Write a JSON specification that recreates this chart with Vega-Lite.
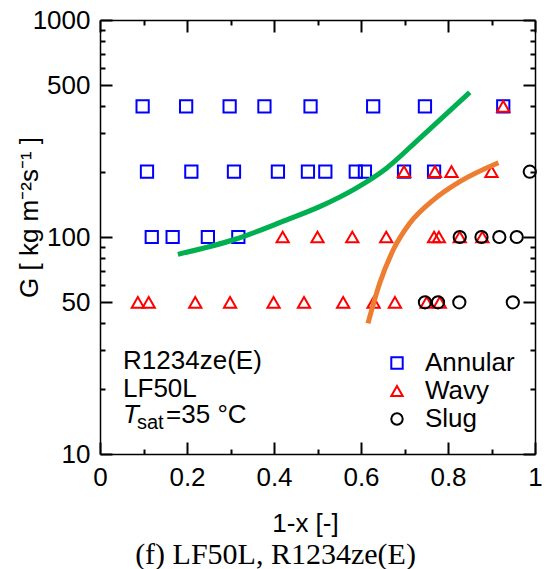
{
  "$schema": "https://vega.github.io/schema/vega-lite/v6.json",
  "width": 435,
  "height": 434,
  "autosize": {"type": "none"},
  "padding": {"left": 100, "top": 20, "right": 17, "bottom": 115},
  "background": "white",
  "config": {
    "view": {"stroke": null},
    "font": "Liberation Sans",
    "axis": {"grid": false}
  },
  "title": {
    "text": "(f) LF50L, R1234ze(E)",
    "orient": "bottom",
    "font": "Liberation Serif",
    "fontSize": 30,
    "fontWeight": "normal",
    "color": "black",
    "anchor": "middle",
    "dx": -42,
    "offset": 4
  },
  "datasets": {
    "points": [
      {"x": 0.098, "G": 400, "regime": "Annular"},
      {"x": 0.198, "G": 400, "regime": "Annular"},
      {"x": 0.298, "G": 400, "regime": "Annular"},
      {"x": 0.378, "G": 400, "regime": "Annular"},
      {"x": 0.484, "G": 400, "regime": "Annular"},
      {"x": 0.628, "G": 400, "regime": "Annular"},
      {"x": 0.747, "G": 400, "regime": "Annular"},
      {"x": 0.927, "G": 400, "regime": "Annular"},
      {"x": 0.108, "G": 200, "regime": "Annular"},
      {"x": 0.210, "G": 200, "regime": "Annular"},
      {"x": 0.308, "G": 200, "regime": "Annular"},
      {"x": 0.409, "G": 200, "regime": "Annular"},
      {"x": 0.478, "G": 200, "regime": "Annular"},
      {"x": 0.518, "G": 200, "regime": "Annular"},
      {"x": 0.588, "G": 200, "regime": "Annular"},
      {"x": 0.609, "G": 200, "regime": "Annular"},
      {"x": 0.699, "G": 200, "regime": "Annular"},
      {"x": 0.768, "G": 200, "regime": "Annular"},
      {"x": 0.119, "G": 100, "regime": "Annular"},
      {"x": 0.167, "G": 100, "regime": "Annular"},
      {"x": 0.248, "G": 100, "regime": "Annular"},
      {"x": 0.318, "G": 100, "regime": "Annular"},
      {"x": 0.927, "G": 400, "regime": "Wavy"},
      {"x": 0.699, "G": 200, "regime": "Wavy"},
      {"x": 0.770, "G": 200, "regime": "Wavy"},
      {"x": 0.808, "G": 200, "regime": "Wavy"},
      {"x": 0.900, "G": 200, "regime": "Wavy"},
      {"x": 0.420, "G": 100, "regime": "Wavy"},
      {"x": 0.500, "G": 100, "regime": "Wavy"},
      {"x": 0.580, "G": 100, "regime": "Wavy"},
      {"x": 0.658, "G": 100, "regime": "Wavy"},
      {"x": 0.768, "G": 100, "regime": "Wavy"},
      {"x": 0.779, "G": 100, "regime": "Wavy"},
      {"x": 0.827, "G": 100, "regime": "Wavy"},
      {"x": 0.879, "G": 100, "regime": "Wavy"},
      {"x": 0.087, "G": 50, "regime": "Wavy"},
      {"x": 0.112, "G": 50, "regime": "Wavy"},
      {"x": 0.219, "G": 50, "regime": "Wavy"},
      {"x": 0.299, "G": 50, "regime": "Wavy"},
      {"x": 0.399, "G": 50, "regime": "Wavy"},
      {"x": 0.469, "G": 50, "regime": "Wavy"},
      {"x": 0.559, "G": 50, "regime": "Wavy"},
      {"x": 0.629, "G": 50, "regime": "Wavy"},
      {"x": 0.678, "G": 50, "regime": "Wavy"},
      {"x": 0.751, "G": 50, "regime": "Wavy"},
      {"x": 0.781, "G": 50, "regime": "Wavy"},
      {"x": 0.988, "G": 200, "regime": "Slug"},
      {"x": 0.827, "G": 100, "regime": "Slug"},
      {"x": 0.877, "G": 100, "regime": "Slug"},
      {"x": 0.918, "G": 100, "regime": "Slug"},
      {"x": 0.958, "G": 100, "regime": "Slug"},
      {"x": 0.747, "G": 50, "regime": "Slug"},
      {"x": 0.777, "G": 50, "regime": "Slug"},
      {"x": 0.826, "G": 50, "regime": "Slug"},
      {"x": 0.949, "G": 50, "regime": "Slug"}
    ],
    "curves": [
      {"x": 0.179, "G": 83.2, "curve": "green"},
      {"x": 0.313, "G": 97.9, "curve": "green"},
      {"x": 0.428, "G": 119.7, "curve": "green"},
      {"x": 0.505, "G": 138, "curve": "green"},
      {"x": 0.589, "G": 168, "curve": "green"},
      {"x": 0.658, "G": 207, "curve": "green"},
      {"x": 0.735, "G": 285, "curve": "green"},
      {"x": 0.850, "G": 464, "curve": "green"},
      {"x": 0.616, "G": 40.0, "curve": "orange"},
      {"x": 0.643, "G": 61.2, "curve": "orange"},
      {"x": 0.674, "G": 87.1, "curve": "orange"},
      {"x": 0.712, "G": 115.6, "curve": "orange"},
      {"x": 0.766, "G": 148, "curve": "orange"},
      {"x": 0.827, "G": 180, "curve": "orange"},
      {"x": 0.916, "G": 220, "curve": "orange"}
    ],
    "notes": [
      {"label": "R1234ze(E)", "x": 0.053, "G": 24.6},
      {"label": "LF50L", "x": 0.053, "G": 18.4},
      {"label": "=35 °C", "x": 0.152, "G": 13.9}
    ],
    "noteT": [{"label": "T", "x": 0.053, "G": 13.9}],
    "noteSat": [{"label": "sat", "x": 0.085, "G": 13.0}]
  },
  "layer": [
    {
      "data": {"name": "points"},
      "mark": {"type": "point", "filled": false, "strokeWidth": 2, "size": 150, "opacity": 1},
      "encoding": {
        "x": {
          "field": "x", "type": "quantitative",
          "scale": {"domain": [0, 1], "nice": false, "zero": false},
          "axis": {
            "orient": "bottom",
            "values": [0, 0.2, 0.4, 0.6, 0.8, 1],
            "labelExpr": "format(datum.value, '~g')",
            "domainColor": "#000000",
            "domainWidth": 1.5,
            "tickSize": -12,
            "tickColor": "#000000",
            "tickWidth": 2,
            "labelFont": "Liberation Sans",
            "labelFontSize": 26,
            "labelColor": "black",
            "labelPadding": 22,
            "labelFlush": false,
            "title": "1-x [-]",
            "titleFont": "Liberation Sans",
            "titleFontSize": 26,
            "titleFontWeight": "normal",
            "titleColor": "black",
            "titleX": 205,
            "titleY": 56
          }
        },
        "y": {
          "field": "G", "type": "quantitative",
          "scale": {"type": "log", "domain": [10, 1000], "nice": false},
          "axis": {
            "orient": "left",
            "values": [10, 50, 100, 500, 1000],
            "format": "d",
            "domainColor": "#000000",
            "domainWidth": 1.5,
            "tickSize": -12,
            "tickColor": "#000000",
            "tickWidth": 2,
            "labelFont": "Liberation Sans",
            "labelFontSize": 26,
            "labelColor": "black",
            "labelPadding": 22,
            "labelFlush": false,
            "labelOverlap": false,
            "title": "G [ kg m⁻²s⁻¹ ]",
            "titleFont": "Liberation Sans",
            "titleFontSize": 26,
            "titleFontWeight": "normal",
            "titleColor": "black",
            "titleX": -58,
            "titleY": 197
          }
        },
        "color": {
          "field": "regime", "type": "nominal",
          "scale": {"domain": ["Annular", "Wavy", "Slug"], "range": ["#0000FF", "#FF0000", "#000000"]},
          "legend": {"title": null, "orient": "none", "legendX": 284, "legendY": 330, "labelFontSize": 26, "labelFont": "Liberation Sans", "labelColor": "black", "symbolStrokeWidth": 2, "symbolSize": 130, "rowPadding": 2, "labelOffset": 15, "padding": 0}
        },
        "shape": {
          "field": "regime", "type": "nominal",
          "scale": {"domain": ["Annular", "Wavy", "Slug"], "range": ["square", "triangle-up", "circle"]},
          "legend": {"title": null, "orient": "none", "legendX": 284, "legendY": 330, "labelFontSize": 26, "labelFont": "Liberation Sans", "labelColor": "black", "symbolStrokeWidth": 2, "symbolSize": 130, "rowPadding": 2, "labelOffset": 15, "padding": 0}
        }
      }
    },
    {
      "data": {"name": "curves"},
      "transform": [{"filter": "datum.curve == 'green'"}],
      "mark": {"type": "line", "strokeWidth": 5, "interpolate": "monotone", "color": "#00B050"},
      "encoding": {
        "x": {"field": "x", "type": "quantitative", "axis": null},
        "y": {"field": "G", "type": "quantitative", "axis": null}
      }
    },
    {
      "data": {"name": "curves"},
      "transform": [{"filter": "datum.curve == 'orange'"}],
      "mark": {"type": "line", "strokeWidth": 5, "interpolate": "monotone", "color": "#ED7D31"},
      "encoding": {
        "x": {"field": "x", "type": "quantitative", "axis": null},
        "y": {"field": "G", "type": "quantitative", "axis": null}
      }
    },
    {
      "data": {"name": "points"},
      "mark": {"type": "point", "opacity": 0},
      "encoding": {
        "x": {
          "field": "x", "type": "quantitative",
          "axis": {"orient": "top", "values": [0, 0.2, 0.4, 0.6, 0.8, 1], "labels": false, "domainColor": "#000000", "domainWidth": 1.5, "tickSize": -12, "tickColor": "#000000", "tickWidth": 2, "title": null}
        },
        "y": {
          "field": "G", "type": "quantitative",
          "axis": {"orient": "right", "values": [10, 50, 100, 500, 1000], "labels": false, "domainColor": "#000000", "domainWidth": 1.5, "tickSize": -12, "tickColor": "#000000", "tickWidth": 2, "title": null}
        }
      }
    },
    {
      "data": {"name": "points"},
      "mark": {"type": "point", "opacity": 0},
      "encoding": {
        "x": {
          "field": "x", "type": "quantitative",
          "axis": {"orient": "bottom", "values": [0.1, 0.3, 0.5, 0.7, 0.9], "labels": false, "domain": false, "tickSize": -5, "tickColor": "#000000", "tickWidth": 2, "title": null}
        },
        "y": {
          "field": "G", "type": "quantitative",
          "axis": {"orient": "left", "values": [20, 30, 40, 60, 70, 80, 90, 200, 300, 400, 600, 700, 800, 900], "labels": false, "domain": false, "tickSize": -5, "tickColor": "#000000", "tickWidth": 2, "title": null}
        }
      }
    },
    {
      "data": {"name": "points"},
      "mark": {"type": "point", "opacity": 0},
      "encoding": {
        "x": {
          "field": "x", "type": "quantitative",
          "axis": {"orient": "top", "values": [0.1, 0.3, 0.5, 0.7, 0.9], "labels": false, "domain": false, "tickSize": -5, "tickColor": "#000000", "tickWidth": 2, "title": null}
        },
        "y": {
          "field": "G", "type": "quantitative",
          "axis": {"orient": "right", "values": [20, 30, 40, 60, 70, 80, 90, 200, 300, 400, 600, 700, 800, 900], "labels": false, "domain": false, "tickSize": -5, "tickColor": "#000000", "tickWidth": 2, "title": null}
        }
      }
    },
    {
      "data": {"name": "notes"},
      "mark": {"type": "text", "align": "left", "baseline": "alphabetic", "fontSize": 26, "font": "Liberation Sans", "color": "black"},
      "encoding": {
        "x": {"field": "x", "type": "quantitative", "axis": null},
        "y": {"field": "G", "type": "quantitative", "axis": null},
        "text": {"field": "label"}
      }
    },
    {
      "data": {"name": "noteT"},
      "mark": {"type": "text", "align": "left", "baseline": "alphabetic", "fontSize": 26, "font": "Liberation Sans", "fontStyle": "italic", "color": "black"},
      "encoding": {
        "x": {"field": "x", "type": "quantitative", "axis": null},
        "y": {"field": "G", "type": "quantitative", "axis": null},
        "text": {"field": "label"}
      }
    },
    {
      "data": {"name": "noteSat"},
      "mark": {"type": "text", "align": "left", "baseline": "alphabetic", "fontSize": 20, "font": "Liberation Sans", "color": "black"},
      "encoding": {
        "x": {"field": "x", "type": "quantitative", "axis": null},
        "y": {"field": "G", "type": "quantitative", "axis": null},
        "text": {"field": "label"}
      }
    }
  ],
  "resolve": {"axis": {"x": "independent", "y": "independent"}}
}
